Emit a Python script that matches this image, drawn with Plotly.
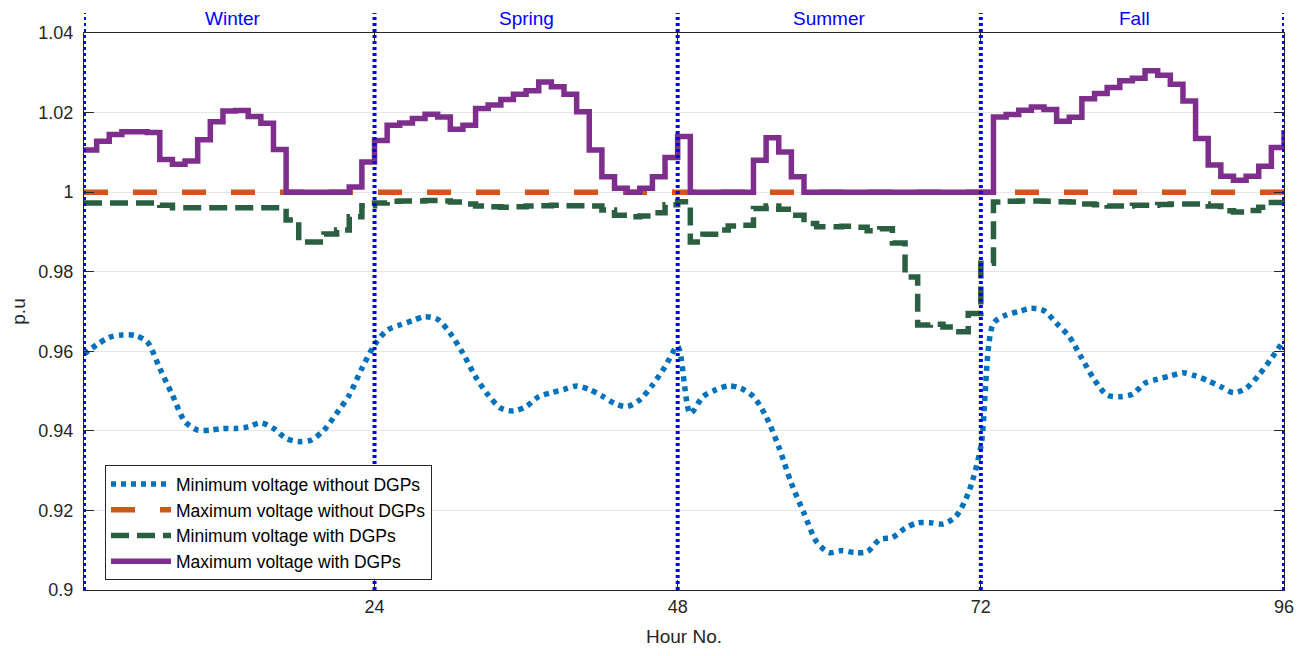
import plotly.graph_objects as go

hours = list(range(1, 97))

min_without = [
    0.9593, 0.9616, 0.9635, 0.9641, 0.9640, 0.9624, 0.9557, 0.9490, 0.9423, 0.9402,
    0.9402, 0.9406, 0.9406, 0.9410, 0.9420, 0.9406, 0.9381, 0.9373, 0.9377, 0.9402,
    0.9444, 0.9490, 0.9557, 0.9616,
    0.9653, 0.9666, 0.9677, 0.9687, 0.9680, 0.9645, 0.9595, 0.9536, 0.9490, 0.9457,
    0.9450, 0.9461, 0.9486, 0.9496, 0.9504, 0.9513, 0.9504, 0.9488, 0.9469, 0.9461,
    0.9478, 0.9515, 0.9561, 0.9612,
    0.9444, 0.9486, 0.9503, 0.9513, 0.9507, 0.9486, 0.9436, 0.9360, 0.9268, 0.9193,
    0.9121, 0.9094, 0.9099, 0.9094, 0.9096, 0.9127, 0.9132, 0.9155, 0.9169, 0.9169,
    0.9166, 0.9184, 0.9243, 0.9360,
    0.9670, 0.9691, 0.9700, 0.9708, 0.9702, 0.9670, 0.9637, 0.9582, 0.9528, 0.9490,
    0.9486, 0.9492, 0.9520, 0.9530, 0.9538, 0.9546, 0.9538, 0.9526, 0.9511, 0.9496,
    0.9507, 0.9540, 0.9582, 0.9628,
]

max_without = [1.0] * 96

min_with = [
    0.9973, 0.9973, 0.9973, 0.9973, 0.9973, 0.9973, 0.9967, 0.9961, 0.9961, 0.9961,
    0.9961, 0.9961, 0.9961, 0.9961, 0.9961, 0.9961, 0.9930, 0.9875, 0.9875, 0.9895,
    0.9905, 0.9938, 0.9966, 0.9973,
    0.9977, 0.9978, 0.9978, 0.9979, 0.9978, 0.9975, 0.9970, 0.9965, 0.9963, 0.9962,
    0.9963, 0.9965, 0.9966, 0.9967, 0.9966, 0.9966, 0.9965, 0.9955, 0.9942, 0.9938,
    0.9940, 0.9948, 0.9968, 0.9976,
    0.9875, 0.9894, 0.9905, 0.9915, 0.9917, 0.9959, 0.9965, 0.9957, 0.9942, 0.9921,
    0.9913, 0.9913, 0.9914, 0.9912, 0.9903, 0.9908, 0.9872, 0.9787, 0.9666, 0.9668,
    0.9661, 0.9649, 0.9695, 0.9821,
    0.9975, 0.9977, 0.9978, 0.9978, 0.9977, 0.9976, 0.9975, 0.9970, 0.9968, 0.9965,
    0.9965, 0.9967, 0.9967, 0.9969, 0.9970, 0.9970, 0.9970, 0.9965, 0.9953, 0.9950,
    0.9954, 0.9962, 0.9974, 0.9974,
]

max_with = [
    1.0106, 1.0128, 1.0145, 1.0152, 1.0152, 1.0150, 1.0082, 1.0070, 1.0078, 1.0132,
    1.0177, 1.0204, 1.0205, 1.0190, 1.0173, 1.0107, 1.0000, 1.0000, 1.0000, 1.0000,
    1.0000, 1.0013, 1.0076, 1.0130,
    1.0168, 1.0174, 1.0185, 1.0196, 1.0189, 1.0158, 1.0168, 1.0210, 1.0219, 1.0233,
    1.0246, 1.0255, 1.0277, 1.0265, 1.0246, 1.0202, 1.0106, 1.0039, 1.0010, 1.0000,
    1.0010, 1.0039, 1.0087, 1.0140,
    1.0000, 1.0000, 1.0000, 1.0000, 1.0000, 1.0080, 1.0137, 1.0101, 1.0039, 1.0000,
    1.0000, 1.0000, 1.0000, 1.0000, 1.0000, 1.0000, 1.0000, 1.0000, 1.0000, 1.0000,
    1.0000, 1.0000, 1.0000, 1.0000,
    1.0189, 1.0195, 1.0206, 1.0214, 1.0208, 1.0178, 1.0188, 1.0235, 1.0248, 1.0263,
    1.0280, 1.0286, 1.0305, 1.0294, 1.0271, 1.0229, 1.0135, 1.0068, 1.0040, 1.0030,
    1.0040, 1.0065, 1.0112, 1.0156,
]

season_names = ["Winter", "Spring", "Summer", "Fall"]
season_label_x = [12.8, 36.0, 60.0, 84.2]
season_bounds = [1, 24, 48, 72, 96]

x_ticks = [24, 48, 72, 96]
y_ticks = [0.9, 0.92, 0.94, 0.96, 0.98, 1.0, 1.02, 1.04]
y_tick_text = ["0.9", "0.92", "0.94", "0.96", "0.98", "1", "1.02", "1.04"]

FONT = "Liberation Sans, Arial, sans-serif"

fig = go.Figure()
fig.add_trace(go.Scatter(
    x=hours, y=min_without, mode="lines", name="Minimum voltage without DGPs",
    line=dict(color="#0072BD", width=5.5, dash="5px,5px", shape="spline", smoothing=0.8)))
fig.add_trace(go.Scatter(
    x=hours, y=max_without, mode="lines", name="Maximum voltage without DGPs",
    line=dict(color="#D95319", width=5.5, dash="24px,25px")))
fig.add_trace(go.Scatter(
    x=hours, y=min_with, mode="lines", name="Minimum voltage with DGPs",
    line=dict(color="#2A6041", width=5.5, dash="18px,8px", shape="hv")))
fig.add_trace(go.Scatter(
    x=hours, y=max_with, mode="lines", name="Maximum voltage with DGPs",
    line=dict(color="#7E2F8E", width=5.5, shape="hv")))

shapes = []
for b in season_bounds:
    shapes.append(dict(type="line", xref="x", yref="paper", x0=b, x1=b, y0=0, y1=1.036,
                       line=dict(color="#0000FF", width=4, dash="3px,3px"), layer="above"))
fig.update_layout(shapes=shapes)

for name, xs in zip(season_names, season_label_x):
    fig.add_annotation(x=xs, y=1.0, xref="x", yref="paper", yanchor="bottom", yshift=2,
                       text=name, showarrow=False, font=dict(color="#0000FF", size=19, family=FONT))

fig.update_layout(
    width=1300, height=640,
    margin=dict(l=76, r=24, t=25, b=58),
    paper_bgcolor="white", plot_bgcolor="white",
    font=dict(family=FONT, size=18, color="#262626"),
    showlegend=True,
    legend=dict(x=0.0175, y=0.224, xanchor="left", yanchor="top",
                bgcolor="white", bordercolor="#262626", borderwidth=1,
                font=dict(size=17.5, family=FONT, color="#000000"),
                itemwidth=60, tracegroupgap=0),
    xaxis=dict(range=[1, 96], tickvals=x_ticks, ticktext=[str(t) for t in x_ticks],
               automargin=False,
               showgrid=False, zeroline=False, showline=True, linecolor="#262626",
               linewidth=1, mirror="ticks", ticks="inside", ticklen=10, tickcolor="#262626",
               title=dict(text="Hour No.", font=dict(size=19, family=FONT, color="#262626"), standoff=14),
               tickfont=dict(size=18, family=FONT, color="#262626")),
    yaxis=dict(range=[0.9, 1.04], tickvals=y_ticks, ticktext=y_tick_text,
               automargin=False, ticklabelstandoff=6,
               showgrid=True, gridcolor="#E6E6E6", gridwidth=1, zeroline=False,
               showline=True, linecolor="#262626", linewidth=1, mirror="ticks",
               ticks="inside", ticklen=10, tickcolor="#262626",
               title=dict(text="p.u", font=dict(size=19, family=FONT, color="#262626"), standoff=18),
               tickfont=dict(size=18, family=FONT, color="#262626")),
)

fig.write_html("out.html")
